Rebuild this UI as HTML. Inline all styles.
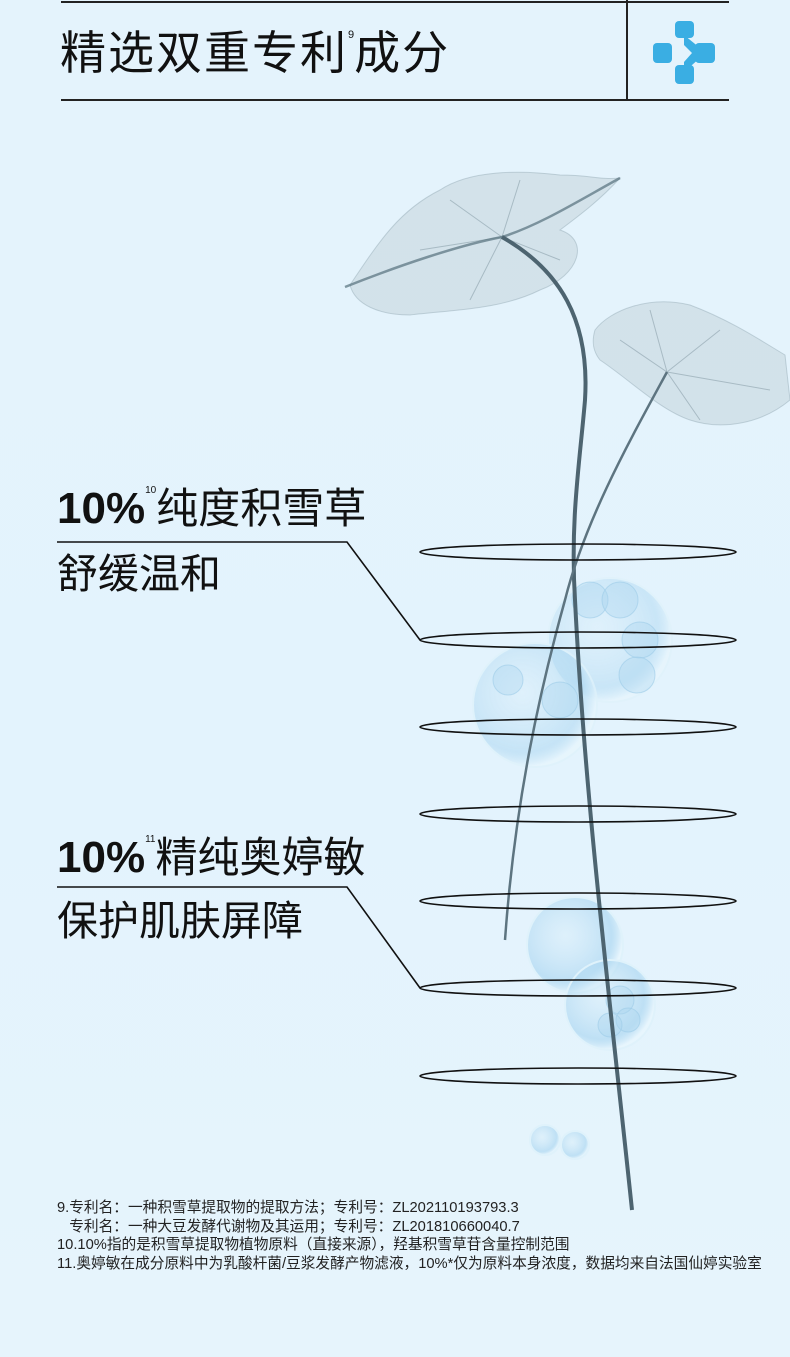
<!DOCTYPE html>
<html><head><meta charset="utf-8"><style>
html,body{margin:0;padding:0}
body{width:790px;height:1357px;position:relative;overflow:hidden;background:linear-gradient(#e4f3fc,#e3f3fd 60%,#e6f4fc);font-family:"Liberation Sans","Noto Sans CJK SC",sans-serif;color:#111}
.t{position:absolute;white-space:nowrap}
svg{position:absolute;left:0;top:0}
</style></head><body>
<svg width="790" height="1357" viewBox="0 0 790 1357">
<defs>
<radialGradient id="b" cx="40%" cy="40%" r="60%"><stop offset="0" stop-color="#cfe9f7" stop-opacity=".3"/><stop offset=".8" stop-color="#9fd0ee" stop-opacity=".55"/><stop offset="1" stop-color="#e8f6fd" stop-opacity=".8"/></radialGradient>
</defs>
<line x1="61" y1="2" x2="729" y2="2" stroke="#222" stroke-width="2"/>
<line x1="61" y1="100" x2="729" y2="100" stroke="#222" stroke-width="2"/>
<line x1="627" y1="0" x2="627" y2="100" stroke="#222" stroke-width="2"/>
<g fill="#3aaee3">
<rect x="653" y="43" width="19" height="20" rx="4"/>
<rect x="675" y="21" width="19" height="17" rx="4"/>
<rect x="695" y="43" width="20" height="20" rx="4"/>
<rect x="675" y="65" width="19" height="19" rx="4"/>
<path d="M684 35 L700 48 L700 58 L684 72 L684 62 L692 53 L684 45Z"/>
</g>
<!-- leaves -->
<g fill="#b9c8d0" fill-opacity=".4" stroke="#8aa0ab" stroke-opacity=".4">
<path d="M350 285 C380 240 400 210 440 190 C470 170 520 170 560 175 C590 175 600 180 620 178 C600 200 580 215 560 230 C590 240 580 275 540 290 C500 310 450 310 410 315 C380 315 355 305 350 285Z"/>
<path d="M595 330 C610 310 650 295 690 305 C730 320 760 340 785 355 L790 400 C760 425 720 430 690 420 C660 410 630 380 600 360 C592 350 592 340 595 330Z"/>
</g>
<g stroke="#7d939e" stroke-width="1" fill="none" opacity=".5">
<path d="M502 237 L450 200 M502 237 L420 250 M502 237 L470 300 M502 237 L560 260 M502 237 L520 180"/>
<path d="M667 372 L620 340 M667 372 L650 310 M667 372 L720 330 M667 372 L770 390 M667 372 L700 420"/>
</g>
<path d="M345 287 C400 265 460 245 502 237 C540 225 580 200 620 178" stroke="#56707c" stroke-width="2.5" fill="none" opacity=".7"/>
<!-- bubbles -->
<g stroke="#dff2fb" stroke-width="2">
<circle cx="610" cy="640" r="62" fill="url(#b)" opacity=".7"/>
<circle cx="535" cy="705" r="62" fill="url(#b)" opacity=".8"/>
<circle cx="575" cy="945" r="48" fill="url(#b)"/>
<circle cx="610" cy="1005" r="45" fill="url(#b)"/>
<circle cx="545" cy="1140" r="15" fill="url(#b)"/>
<circle cx="575" cy="1145" r="14" fill="url(#b)"/>
</g>
<g fill="#a9d4ee" fill-opacity=".35" stroke="#9ccbe8" stroke-opacity=".6">
<circle cx="590" cy="600" r="18"/><circle cx="620" cy="600" r="18"/><circle cx="640" cy="640" r="18"/><circle cx="637" cy="675" r="18"/>
<circle cx="508" cy="680" r="15"/><circle cx="560" cy="700" r="18"/>
<circle cx="620" cy="1000" r="14"/><circle cx="628" cy="1020" r="12"/><circle cx="610" cy="1025" r="12"/>
</g>
<!-- stems -->
<path d="M502 237 C560 270 590 320 585 400 C580 460 570 520 575 600 C585 800 610 1000 632 1210" stroke="#4d6470" stroke-width="4" fill="none"/>
<path d="M667 372 C630 440 585 520 565 600 C540 690 515 800 505 940" stroke="#5d7480" stroke-width="2.5" fill="none"/>
<!-- ellipses -->
<g fill="none" stroke="#111" stroke-width="1.6">
<ellipse cx="578" cy="552" rx="158" ry="8"/>
<ellipse cx="578" cy="640" rx="158" ry="8"/>
<ellipse cx="578" cy="727" rx="158" ry="8"/>
<ellipse cx="578" cy="814" rx="158" ry="8"/>
<ellipse cx="578" cy="901" rx="158" ry="8"/>
<ellipse cx="578" cy="988" rx="158" ry="8"/>
<ellipse cx="578" cy="1076" rx="158" ry="8"/>
</g>
<g fill="none" stroke="#111" stroke-width="1.6">
<polyline points="57,542 347,542 420,640"/>
<polyline points="57,887 347,887 420,988"/>
</g>
</svg>
<div class="t" style="left:60px;top:25px;font-size:46px;line-height:56px;letter-spacing:2px">精选双重专利<sup style="font-size:11px;vertical-align:top;line-height:20px;letter-spacing:0">9</sup>成分</div>
<div class="t" style="left:57px;top:484px;font-size:42px;line-height:50px;"><b style="font-size:44px">10%</b><sup style="font-size:10px;vertical-align:top;line-height:14px">10</sup>纯度积雪草</div>
<div class="t" style="left:57px;top:549px;font-size:41px;line-height:50px;">舒缓温和</div>
<div class="t" style="left:57px;top:833px;font-size:42px;line-height:50px;"><b style="font-size:44px">10%</b><sup style="font-size:10px;vertical-align:top;line-height:14px">11</sup>精纯奥婷敏</div>
<div class="t" style="left:57px;top:896px;font-size:41px;line-height:50px;">保护肌肤屏障</div>
<div class="t" style="left:57px;top:1199px;font-size:14.7px;line-height:18.7px;color:#222">9.专利名：一种积雪草提取物的提取方法；专利号：ZL202110193793.3<br>&nbsp;&nbsp;&nbsp;专利名：一种大豆发酵代谢物及其运用；专利号：ZL201810660040.7<br>10.10%指的是积雪草提取物植物原料（直接来源），羟基积雪草苷含量控制范围<br>11.奥婷敏在成分原料中为乳酸杆菌/豆浆发酵产物滤液，10%*仅为原料本身浓度，数据均来自法国仙婷实验室</div>
</body></html>
